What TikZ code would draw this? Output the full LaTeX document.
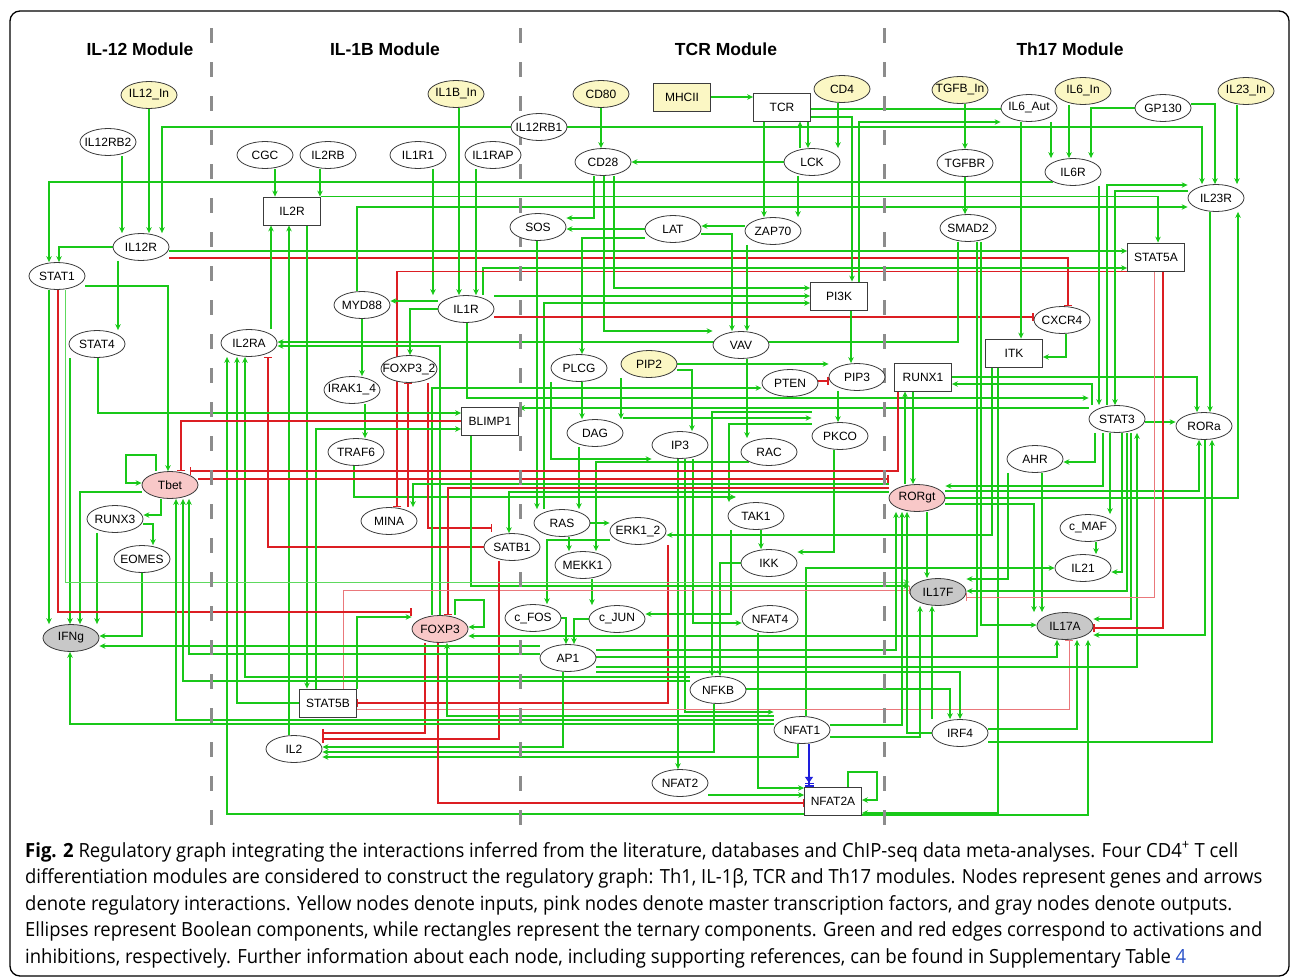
\documentclass[tikz,border=0pt]{standalone}
\usepackage{fontspec}
\setmainfont{Liberation Sans}
\newfontfamily\capfont{Open Sans}
\usetikzlibrary{shapes.geometric,arrows.meta,backgrounds}

\definecolor{grn}{RGB}{25,200,25}
\definecolor{rd}{RGB}{220,30,35}
\definecolor{bl}{RGB}{30,30,220}
\definecolor{ndline}{RGB}{60,60,60}
\definecolor{inpcol}{RGB}{251,247,196}
\definecolor{mtfcol}{RGB}{248,200,200}
\definecolor{outcol}{RGB}{200,200,200}
\definecolor{linkblue}{RGB}{40,80,200}

\newcommand{\glab}[1]{\makebox[0pt]{#1}}

\tikzset{
  gene/.style={
    ellipse,
    draw=ndline,
    fill=white,
    line width=0.8pt,
    minimum width=56pt,
    minimum height=27pt,
    inner sep=0pt,
    font=\fontsize{12}{13}\selectfont
  },
  gene input/.style={gene, fill=inpcol},
  gene master/.style={gene, fill=mtfcol},
  gene output/.style={gene, fill=outcol},
  tern/.style={
    rectangle,
    draw=ndline,
    fill=white,
    line width=0.8pt,
    minimum width=57pt,
    minimum height=28pt,
    inner sep=0pt,
    font=\fontsize{12}{13}\selectfont
  },
  act/.style={draw=grn, line width=1.4pt, -{Stealth[length=6pt,width=5.5pt]}},
  inh/.style={draw=rd, line width=1.4pt, -{Bar[width=8pt]}},
  lact/.style={act, line width=0.8pt, draw=grn!70},
  linh/.style={inh, line width=0.8pt, draw=rd!60},
  link/.style={draw=grn, line width=1.4pt},
  blu/.style={draw=bl, line width=1.4pt,
    -{Triangle[open,length=6pt,width=8pt] Bar[width=9pt,sep=1pt] Bar[width=9pt]}},
  modsep/.style={draw=black!45, line width=3pt, dash pattern=on 15pt off 19pt},
  modtitle/.style={font=\fontsize{17.5}{20}\selectfont\bfseries}
}

\newcommand{\capline}[4]{\node[anchor=base west, inner sep=0pt] (#1) at (25,#2)
  {\resizebox{#3pt}{\height}{\capfont\fontsize{19.5}{21}\selectfont #4}};}

\begin{document}
\begin{tikzpicture}[x=1pt, y=-1pt]
  \useasboundingbox (0,0) rectangle (1290,977);

  % inputs
  \foreach \n/\t/\x/\y in {IL12In/IL12\_In/149/95, IL1BIn/IL1B\_In/456/94,
      CD80/CD80/601/94, CD4/CD4/842/89, TGFBIn/TGFB\_In/960/90,
      IL6In/IL6\_In/1083/91, IL23In/IL23\_In/1246/91, PIP2/PIP2/649/364}
    \node [gene input] (\n) at (\x,\y) {\glab{\t}};
  \node [tern, fill=inpcol] (MHCII) at (682,97) {MHCII};

  % boolean components
  \foreach \n/\t/\x/\y in {IL12RB2/IL12RB2/108/142, CGC/CGC/265/155,
      IL2RB/IL2RB/328/155, IL1R1/IL1R1/418/155, IL1RAP/IL1RAP/493/155,
      IL12RB1/IL12RB1/539/127, CD28/CD28/603/162, LCK/LCK/812/162,
      IL6Aut/IL6\_Aut/1029/108, GP130/GP130/1163/108, TGFBR/TGFBR/965/163,
      IL6R/IL6R/1073/172, IL23R/IL23R/1216/198, SOS/SOS/538/227,
      LAT/LAT/673/229, ZAP70/ZAP70/773/231, SMAD2/SMAD2/968/228,
      IL12R/IL12R/141/247, STAT1/STAT1/57/276, MYD88/MYD88/362/305,
      IL1R/IL1R/466/309, CXCR4/CXCR4/1062/320, STAT4/STAT4/97/344,
      IL2RA/IL2RA/249/343, VAV/VAV/741/345, FOXP32/FOXP3\_2/409/369,
      PLCG/PLCG/579/368, PTEN/PTEN/790/383, PIP3/PIP3/857/377,
      IRAK14/IRAK1\_4/352/390, STAT3/STAT3/1117/419, RORa/RORa/1204/426,
      DAG/DAG/595/433, IP3/IP3/680/445, PKCO/PKCO/840/436, RAC/RAC/769/452,
      TRAF6/TRAF6/356/452, AHR/AHR/1035/459, RUNX3/RUNX3/115/519,
      MINA/MINA/389/521, RAS/RAS/562/523, ERK12/ERK1\_2/638/531,
      TAK1/TAK1/756/516, cMAF/c\_MAF/1088/528, SATB1/SATB1/512/547,
      EOMES/EOMES/142/559, MEKK1/MEKK1/583/565, IKK/IKK/769/563,
      IL21/IL21/1083/568, cFOS/c\_FOS/533/618, cJUN/c\_JUN/617/619,
      NFAT4/NFAT4/770/619, AP1/AP1/568/658, NFKB/NFKB/718/690,
      NFAT1/NFAT1/802/730, IRF4/IRF4/960/733, IL2/IL2/294/749,
      NFAT2/NFAT2/680/783}
    \node [gene] (\n) at (\x,\y) {\glab{\t}};

  % master regulators and outputs
  \foreach \n/\x/\y in {Tbet/170/485, RORgt/917/498, FOXP3/440/629}
    \node [gene master] (\n) at (\x,\y) {\glab{\n}};
  \foreach \n/\x/\y in {IFNg/71/638, IL17F/938/592, IL17A/1065/626}
    \node [gene output] (\n) at (\x,\y) {\glab{\n}};

  % ternary components
  \foreach \n/\x/\y in {IL2R/292/211, TCR/782/107, STAT5A/1156/257,
      PI3K/839/296, ITK/1014/353, RUNX1/923/377, BLIMP1/490/421,
      STAT5B/328/703, NFAT2A/833/801}
    \node [tern] (\n) at (\x,\y) {\n};

  \foreach \t/\x [count=\i] in {IL-12 Module/140, IL-1B Module/385,
      TCR Module/726, Th17 Module/1070}
    \node [modtitle] (mod\i) at (\x,49) {\t};

  \draw [line width=1.3pt, rounded corners=10pt] (10,11) rectangle (1289,976);

  \begin{pgfonlayer}{background}
  \fill [white] (0,0) rectangle (1290,977);

  % receptors
  \draw [act] (IL12In.south) -- (IL12In.south |- IL12R.north);
  \draw [act] (122,0 |- IL12RB2.south) -- (122,0 |- IL12R.north);
  \draw [act] (IL12RB1.west) -| (162,0 |- IL12R.north);
  \draw [act] (IL12RB1.east) -| (1202,0 |- IL23R.north);
  \draw [act] (IL12R.west) -| ([xshift=2pt]STAT1.north);
  \draw [act] (IL6R.south west) -| (49,0 |- STAT1.north);
  \draw [act] (118,0 |- IL12R.south) -- (118,0 |- STAT4.north);
  \draw [act] ([yshift=-4pt]IL12R.east) -- ([yshift=-4pt]IL12R.east -| STAT5A.west);
  \draw [inh] ([yshift=-11pt]IL12R.east) -| ([xshift=6pt]CXCR4.north);
  \draw [act] (275,0 |- CGC.south) -- (275,0 |- IL2R.north);
  \draw [act] (320,0 |- IL2RB.south) -- (320,0 |- IL2R.north);
  \draw [act] (IL2R.north east) -| ([xshift=2pt]STAT5A.north);
  \draw [act] (357,0 |- MYD88.north) |- (IL23R.west |- 0,207);
  \draw [act] (433,0 |- IL1R1.south) -- (433,0 |- IL1R.north);
  \draw [act] (459,0 |- IL1BIn.south) -- (459,0 |- IL1R.north);
  \draw [act] (476,0 |- IL1RAP.south) -- (476,0 |- IL1R.north);
  \draw [act] (483,0 |- IL1R.north) |- (STAT5A.west |- 0,268);
  \draw [inh] (STAT5A.south west) -| ([xshift=8pt]MINA.north);
  \draw [act] (965,0 |- TGFBIn.south) -- (965,0 |- TGFBR.north);
  \draw [act] (TGFBR.south) -- (TGFBR.south |- SMAD2.north);
  \draw [act] (1051,0 |- IL6Aut.south) -- (1051,0 |- IL6R.north);
  \draw [act] (1069,0 |- IL6In.south) -- (1069,0 |- IL6R.north);
  \draw [act] (GP130.west) -| (1091,0 |- IL6R.north);
  \draw [act] ([yshift=4pt]GP130.east) -| (1215,0 |- IL23R.north);
  \draw [act] (1237,0 |- IL23In.south) -- (1237,0 |- IL23R.north);

  % TCR module
  \draw [act] (CD80.south) -- (CD80.south |- CD28.north);
  \draw [act] (MHCII.east) -- (MHCII.east -| TCR.west);
  \draw [act] (764,0 |- TCR.south) -- (764,0 |- ZAP70.north);
  \draw [act] (800,0 |- LCK.north) -- (800,0 |- TCR.south);
  \draw [act] (808,0 |- TCR.south) -- (808,0 |- LCK.north);
  \draw [act] (838,0 |- CD4.south) -- (838,0 |- LCK.north);
  \draw [act] (LCK.west) -- (LCK.west -| CD28.east);
  \draw [act] (798,0 |- LCK.south) -- (798,0 |- ZAP70.north);
  \draw [link] ([yshift=-2pt]TCR.east) -- ([yshift=-2pt]TCR.east -| IL6Aut.west);
  \draw [act] ([yshift=-10pt]TCR.east) -| (852,0 |- PI3K.north);
  \draw [act] (859,0 |- PI3K.north) |- (IL6Aut.west |- 0,122);
  \draw [act] (594,0 |- CD28.south) |- ([yshift=9pt]SOS.east);
  \draw [act] (LAT.west) -- (LAT.west -| SOS.east);
  \draw [act] ([yshift=5pt]ZAP70.west) -- ([yshift=5pt]ZAP70.west -| LAT.east);
  \draw [act] ([yshift=-5pt]LAT.east) -| (732,0 |- VAV.north);
  \draw [act] (747,0 |- ZAP70.south) -- (747,0 |- VAV.north);
  \draw [act] ([yshift=-9pt]LAT.west) -| (582,0 |- PLCG.north);
  \draw [act] (537,0 |- SOS.south) -- (537,0 |- RAS.north);
  \draw [act] (604,0 |- CD28.south) |- (VAV.west |- 0,331);
  \draw [act] (614,0 |- CD28.south) |- (PI3K.west |- 0,288);
  \draw [act] ([yshift=13pt]IL1R.east) -- ([yshift=13pt]IL1R.east -| PI3K.west);
  \draw [act] (544,0 |- RAS.north) |- (PI3K.west |- 0,303);
  \draw [inh] ([yshift=-8pt]IL1R.east) -- ([yshift=-8pt]IL1R.east -| CXCR4.west);
  \draw [act] (851,0 |- PI3K.south) -- (851,0 |- PIP3.north);
  \draw [inh] ([yshift=2pt]PTEN.east) -- ([yshift=2pt]PTEN.east -| PIP3.west);
  \draw [act] (PIP2.east) -- (PIP2.east -| PIP3.west);
  \draw [act] ([yshift=-6pt]PIP2.east) -| (692,0 |- IP3.north);
  \draw [act] (838,0 |- PIP3.south) -- (838,0 |- PKCO.north);
  \draw [act] (747,0 |- VAV.south) -- (747,0 |- RAC.north);
  \draw [act] (582,0 |- PLCG.south) -- (582,0 |- DAG.north);
  \draw [act] (551,0 |- PLCG.south) |- (IP3.west |- 0,459);
  \draw [act] (621,0 |- PIP2.south) -- (621,0 |- DAG.north);
  \draw [act] ([yshift=15pt]DAG.east) -- ([yshift=15pt]DAG.east -| PKCO.west);
  \draw [act] (PKCO.west |- 0,412) -| (712,0 |- NFKB.north);
  \draw [act] (PKCO.west |- 0,424) -| (729,0 |- TAK1.north);
  \draw [act] (834,0 |- PKCO.south) |- ([yshift=11pt]IKK.east);
  \draw [act] (IKK.west) -| (720,0 |- NFKB.north);
  \draw [act] (761,0 |- TAK1.south) -- (761,0 |- IKK.north);
  \draw [act] (731,0 |- TAK1.south) |- ([yshift=5pt]cJUN.east);
  \draw [act] (693,0 |- IP3.south) |- ([yshift=-4pt]NFAT4.west);
  \draw [act] (678,0 |- IP3.south) -- (678,0 |- NFAT2.north);
  \draw [act] (685,0 |- IP3.south) |- (NFAT1.west |- 0,712);
  \draw [act] (RAC.south west) -| (596,0 |- MEKK1.north);
  \draw [act] (569,0 |- RAS.south) -- (569,0 |- MEKK1.north);
  \draw [act] (579,0 |- DAG.south) -- (579,0 |- RAS.north);
  \draw [act] (RAS.east) -- (RAS.east -| ERK12.west);
  \draw [act] ([yshift=-9pt]ERK12.west) -| (547,0 |- cFOS.north);
  \draw [act] (592,0 |- MEKK1.south) -- (592,0 |- cJUN.north);
  \draw [act] (cFOS.east) -| (566,0 |- AP1.north);
  \draw [act] (cJUN.west) -| (574,0 |- AP1.north);
  \draw [inh] (668,0 |- ERK12.south) |- (STAT5B.east);
  \draw [act] (806,0 |- NFAT1.north) |- (IL21.west);

  % IL-1B module
  \draw [act] (271,0 |- IL2RA.north) -- (271,0 |- IL2R.south);
  \draw [act] (289,0 |- IL2.north) -- (289,0 |- IL2R.south);
  \draw [act] (307,0 |- IL2R.south) -- (307,0 |- STAT5B.north);
  \draw [act] ([yshift=8pt]IL1R.west) -- ([yshift=8pt]IL1R.west -| MYD88.east);
  \draw [act] (IL1R.west) -| (410,0 |- FOXP32.north);
  \draw [act] (362,0 |- MYD88.south) -- (362,0 |- IRAK14.north);
  \draw [act] (365,0 |- IRAK14.south) -- (365,0 |- TRAF6.north);
  \draw [act] (354,0 |- TRAF6.south) |- (TAK1.north west |- 0,497);
  \draw [inh] (428,0 |- FOXP32.south) |- (SATB1.north west |- 0,528);
  \draw [inh] (408,0 |- MINA.north) -- (408,0 |- FOXP32.south);
  \draw [act] (RORgt.west |- 0,484) -| (413,0 |- MINA.north);
  \draw [act] (RORgt.west |- 0,492) -| (509,0 |- SATB1.north);
  \draw [inh] (RORgt.west |- 0,488) -| (448,0 |- FOXP3.north);
  \draw [act] (958,0 |- SMAD2.south) |- ([yshift=1pt]IL2RA.east);
  \draw [act] (440,0 |- FOXP3.north) |- ([yshift=-3pt]IL2RA.east);
  \draw [act] (432,0 |- FOXP3.north) |- (PTEN.west |- 0,388);
  \draw [act] (467,0 |- IL1R.south) |- (STAT3.west |- 0,398);
  \draw [act] (STAT3.west |- 0,408) -- (BLIMP1.east |- 0,408);
  \draw [act] (NFAT2A.west |- 0,814) -| (227,0 |- IL2RA.south);
  \draw [act] (STAT5B.west) -| (237,0 |- IL2RA.south);
  \draw [act] (NFKB.west |- 0,677) -| (245,0 |- IL2RA.south);
  \draw [inh] (SATB1.west) -| (268,0 |- IL2RA.south);
  \draw [act] (357,0 |- STAT5B.north) |- (FOXP3.west |- 0,617);
  \draw [linh] (343,0 |- STAT5B.north) |- (IL17F.west |- 0,590);
  \draw [act] (316,0 |- STAT5B.north) |- (BLIMP1.west |- 0,429);
  \draw [linh] ([yshift=-6pt]STAT5B.east) -| (1069,0 |- IL17A.south);
  \draw [act] (471,0 |- BLIMP1.south) |- ([yshift=6pt]IL17F.west);
  \draw [act] (455,0 |- FOXP3.north) |- (484,600) |- ([yshift=2pt]FOXP3.east);
  \draw [act] (NFAT1.west |- 0,716) -| (447,0 |- FOXP3.south);
  \draw [inh] (499,0 |- SATB1.south) |- ([yshift=10pt]IL2.east);
  \draw [inh] (425,0 |- FOXP3.south) |- ([yshift=16pt]IL2.east);
  \draw [act] (563,0 |- AP1.south) |- ([yshift=2pt]IL2.east);
  \draw [act] (714,0 |- NFKB.south) |- ([yshift=-3pt]IL2.east);
  \draw [act] (798,0 |- NFAT1.south) |- ([yshift=-8pt]IL2.east);
  \draw [inh] (438,0 |- FOXP3.south) |- ([yshift=-2pt]NFAT2A.west);

  % IL-12 module
  \draw [inh] (BLIMP1.west) -| ([xshift=11pt]Tbet.north);
  \draw [act] (98,0 |- STAT4.south) |- (BLIMP1.west |- 0,413);
  \draw [act] ([yshift=-10pt]STAT1.east) -| ([xshift=-2pt]Tbet.north);
  \draw [act] (156,0 |- Tbet.north) |- (126,455) |- ([yshift=2pt]Tbet.west);
  \draw [act] (161,0 |- Tbet.south) |- ([yshift=4pt]RUNX3.east);
  \draw [act] ([yshift=-5pt]RUNX3.east) -| (153,0 |- EOMES.north);
  \draw [act] (EOMES.south) |- ([yshift=2pt]IFNg.east);
  \draw [act] (49,0 |- STAT1.south) -- (49,0 |- IFNg.north);
  \draw [act] (70,0 |- STAT4.south) -- (70,0 |- IFNg.north);
  \draw [act] ([yshift=-7pt]Tbet.west) -| (80,0 |- IFNg.north);
  \draw [act] (97,0 |- RUNX3.south) -- (97,0 |- IFNg.north);
  \draw [inh] (58,0 |- STAT1.south) |- (FOXP3.west |- 0,612);
  \draw [lact] (65,0 |- STAT1.south) |- (IL17F.west |- 0,582);
  \draw [act] (AP1.west |- 0,646) -- (IFNg.east |- 0,646);
  \draw [act] (NFAT1.west |- 0,720) -| (176,0 |- Tbet.south);
  \draw [act] (NFKB.west |- 0,681) -| (183,0 |- Tbet.south);
  \draw [act] (AP1.west |- 0,654) -| (189,0 |- Tbet.south);
  \draw [act] (NFAT1.west |- 0,724) -| (70,0 |- IFNg.south);
  \draw [inh] ([yshift=6pt]Tbet.east) -- ([yshift=6pt]Tbet.east -| RORgt.west);
  \draw [inh] (898,0 |- RUNX1.south) |- (Tbet.north east |- 0,471);

  % NFAT2A
  \draw [blu] (809,0 |- NFAT1.south) -- (809,0 |- NFAT2A.north);
  \draw [act] (758,0 |- NFAT4.south) |- ([yshift=13pt]NFAT2A.west);
  \draw [act] ([yshift=-12pt]NFAT2.east) -- ([yshift=-12pt]NFAT2.east -| NFAT2A.west);
  \draw [act] (848,0 |- NFAT2A.north) |- (877,772) |- ([yshift=1pt]NFAT2A.east);
  \draw [act] (998,0 |- ITK.south) |- ([yshift=-12pt]NFAT2A.east);
  \draw [act] ([yshift=-14pt]NFAT2A.east) -| (1088,0 |- IL17A.south);

  % Th17 module
  \draw [act] (992,0 |- ITK.south) |- ([yshift=-4pt]ERK12.east);
  \draw [act] (1021,0 |- IL6Aut.south) -- (1021,0 |- ITK.north);
  \draw [act] (1066,0 |- CXCR4.south) |- ([yshift=-4pt]ITK.east);
  \draw [act] (RUNX1.east) -| ([xshift=-7pt]RORa.north);
  \draw [act] (1092,0 |- STAT3.north) |- ([yshift=-7pt]RUNX1.east);
  \draw [act] (1099,0 |- IL6R.south) -- (1099,0 |- STAT3.north);
  \draw [act] (1107,0 |- STAT3.north) |- (IL23R.west |- 0,185);
  \draw [act] (IL23R.west |- 0,191) -| (1115,0 |- STAT3.north);
  \draw [act] (1210,0 |- IL23R.south) -- (1210,0 |- RORa.north);
  \draw [act] (RORgt.east) -| (1238,0 |- IL23R.south);
  \draw [act] (1095,0 |- STAT3.south) |- ([yshift=-3pt]AHR.east);
  \draw [act] (1103,0 |- STAT3.south) |- ([yshift=12pt]RORgt.east);
  \draw [act] (RORgt.east |- 0,491) -| (1199,0 |- RORa.south);
  \draw [act] (RORgt.east |- 0,504) -| (1034,0 |- IL17A.north);
  \draw [act] (1042,0 |- AHR.south) -- (1042,0 |- IL17A.north);
  \draw [act] (1008,0 |- AHR.south) |- ([yshift=13pt]IL17F.east);
  \draw [act] (1110,0 |- STAT3.south) -- (1110,0 |- cMAF.north);
  \draw [act] (1096,0 |- cMAF.south) -- (1096,0 |- IL21.north);
  \draw [act] (1122,0 |- STAT3.south) |- ([yshift=-4pt]IL21.east);
  \draw [act] (1127,0 |- STAT3.south) |- ([yshift=1pt]IL17F.east);
  \draw [act] (1131,0 |- STAT3.south) |- ([yshift=7pt]IL17A.east);
  \draw [act] ([yshift=-3pt]STAT3.east) -- ([yshift=-3pt]STAT3.east -| RORa.west);
  \draw [act] (AP1.east |- 0,667) -| (1137,0 |- STAT3.south);
  \draw [act] (AP1.east |- 0,650) -| (896,0 |- RORgt.south);
  \draw [act] (AP1.east |- 0,657) -| (1057,0 |- IL17A.south);
  \draw [act] (AP1.east |- 0,672) -| (960,0 |- IRF4.north);
  \draw [act] (NFKB.east |- 0,689) -| (950,0 |- IRF4.north);
  \draw [act] (NFAT1.east |- 0,725) -| (902,0 |- RORgt.south);
  \draw [act] (NFAT1.east |- 0,737) -| (920,0 |- IL17F.south);
  \draw [act] (IRF4.west) -| (907,0 |- RORgt.south);
  \draw [act] (932,0 |- IRF4.north) -- (932,0 |- IL17F.south);
  \draw [act] (IRF4.east |- 0,729) -| (1077,0 |- IL17A.south);
  \draw [act] (IRF4.east |- 0,742) -| (1212,0 |- RORa.south);
  \draw [act] (1205,0 |- RORa.south) |- ([yshift=-9pt]IL17A.east);
  \draw [inh] (1163,0 |- STAT5A.south) |- ([yshift=-2pt]IL17A.east);
  \draw [linh] (1154,0 |- STAT5A.south) |- ([yshift=-5pt]IL17F.east);
  \draw [act] (977,0 |- SMAD2.south) |- ([yshift=-7pt]FOXP3.east);
  \draw [act] (981,0 |- SMAD2.south) |- ([yshift=1pt]IL17A.west);
  \draw [act] (905,0 |- RORgt.north) -- (905,0 |- RUNX1.south);
  \draw [act] (913,0 |- RUNX1.south) -- (913,0 |- RORgt.north);
  \draw [act] (927,0 |- RORgt.south) -- (927,0 |- IL17F.north);

  \foreach \x in {211,520,884}
    \draw [modsep] (\x,28) -- (\x,828);
  \end{pgfonlayer}

  \capline{cap1}{857}{1213}{\textbf{Fig. 2} Regulatory graph integrating the interactions inferred from the literature, databases and ChIP-seq data meta-analyses. Four CD4\textsuperscript{+} T cell}
  \capline{cap2}{883.5}{1237}{differentiation modules are considered to construct the regulatory graph: Th1, IL-1β, TCR and Th17 modules. Nodes represent genes and arrows}
  \capline{cap3}{910}{1207}{denote regulatory interactions. Yellow nodes denote inputs, pink nodes denote master transcription factors, and gray nodes denote outputs.}
  \capline{cap4}{936.5}{1237}{Ellipses represent Boolean components, while rectangles represent the ternary components. Green and red edges correspond to activations and}
  \capline{cap5}{963}{1161}{inhibitions, respectively. Further information about each node, including supporting references, can be found in Supplementary Table {\color{linkblue}4}}
\end{tikzpicture}
\end{document}
